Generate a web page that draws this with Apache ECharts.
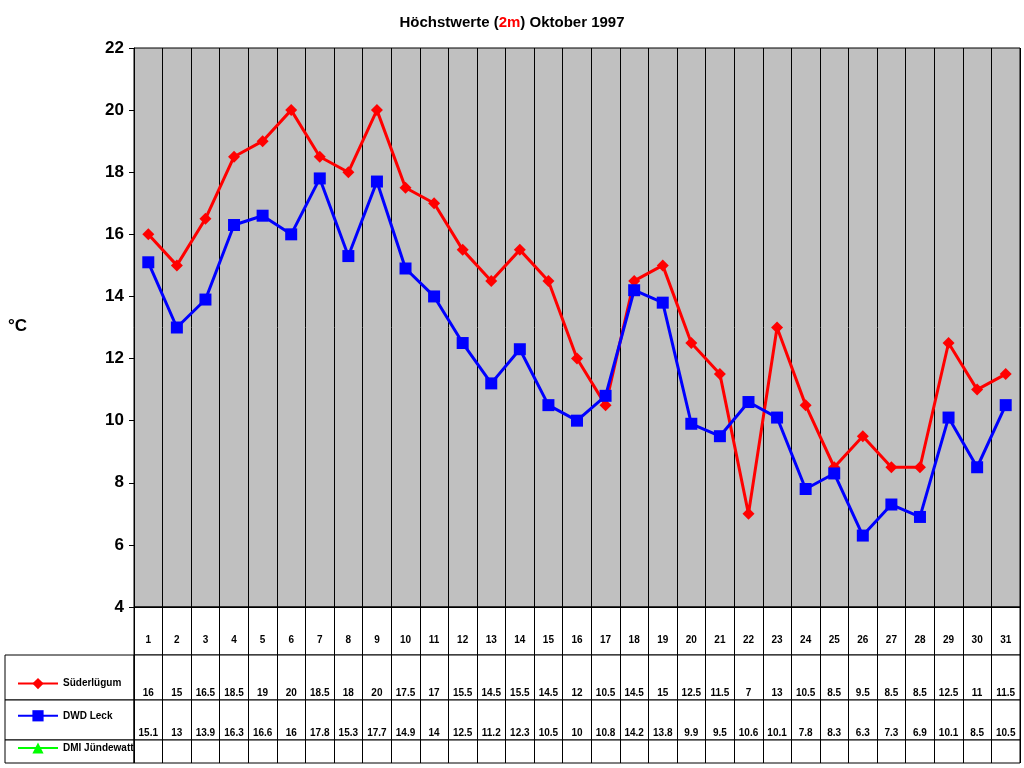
<!DOCTYPE html>
<html><head><meta charset="utf-8">
<script src="https://cdn.jsdelivr.net/npm/echarts@6/dist/echarts.min.js"></script>
<style>html,body{margin:0;background:#fff}#c{width:1024px;height:768px}</style>
</head><body><div id="c"></div>
<script>
// Daily maxima, October 1997
const days = Array.from({length: 31}, (_, i) => String(i + 1));
const suederluegum = [16,15,16.5,18.5,19,20,18.5,18,20,17.5,17,15.5,14.5,15.5,14.5,12,10.5,14.5,15,12.5,11.5,7,13,10.5,8.5,9.5,8.5,8.5,12.5,11,11.5];
const dwdLeck = [15.1,13,13.9,16.3,16.6,16,17.8,15.3,17.7,14.9,14,12.5,11.2,12.3,10.5,10,10.8,14.2,13.8,9.9,9.5,10.6,10.1,7.8,8.3,6.3,7.3,6.9,10.1,8.5,10.5];
const dmiJuendewatt = [];
const names = ['Süderlügum', 'DWD Leck', 'DMI Jündewatt'];
const colors = ['#ff0000', '#0000ff', '#00ff00'];

const font = 'Arial, "Liberation Sans", sans-serif';
const L = 134, R = 4;
// table rows: [top, height, label data, label margin]
const rows = [
  [607, 48, days, -20],
  [655, 45, suederluegum.map(String), -12],
  [700, 40, dwdLeck.map(String), -12],
  [740, 23, days.map(() => ''), -10]
];

const grids = [{left: L, right: R, top: 48, bottom: 768 - 607, show: true, backgroundColor: '#c0c0c0', borderColor: '#000', borderWidth: 1}];
const xAxes = [{type: 'category', data: days, gridIndex: 0, boundaryGap: true,
  axisLine: {lineStyle: {color: '#000'}}, axisTick: {show: false}, axisLabel: {show: false},
  splitLine: {show: true, lineStyle: {color: '#000', width: 1}}}];
const yAxes = [{type: 'value', gridIndex: 0, min: 4, max: 22, interval: 2,
  axisLine: {show: true, lineStyle: {color: '#000'}}, axisTick: {show: true, length: 5},
  axisLabel: {color: '#000', fontWeight: 'bold', fontSize: 17, fontFamily: font, margin: 10},
  splitLine: {show: false}}];
rows.forEach((r, i) => {
  grids.push({left: L, right: R, top: r[0], height: r[1], show: true, backgroundColor: '#fff', borderColor: '#000', borderWidth: 1});
  xAxes.push({type: 'category', data: r[2], gridIndex: i + 1, boundaryGap: true,
    axisLine: {show: false}, axisTick: {show: false},
    axisLabel: {color: '#000', fontSize: 10, fontWeight: 'bold', fontFamily: font, margin: r[3], interval: 0},
    splitLine: {show: true, lineStyle: {color: '#000', width: 1}}});
  yAxes.push({type: 'value', gridIndex: i + 1, show: false});
});

const legendRects = rows.slice(1).map(r => ({type: 'rect', shape: {x: 5, y: r[0], width: L - 5, height: r[1]},
  style: {fill: '#fff', stroke: '#000', lineWidth: 1}, z: -1}));

const option = {
  animation: false,
  title: {text: '{a|Höchstwerte (}{b|2m}{a|) Oktober 1997}', left: 'center', top: 10,
    textStyle: {rich: {a: {fontSize: 15, fontWeight: 'bold', color: '#000', fontFamily: font},
      b: {fontSize: 15, fontWeight: 'bold', color: '#ff0000', fontFamily: font}}}},
  grid: grids, xAxis: xAxes, yAxis: yAxes,
  legend: {orient: 'vertical', left: 12, top: 673, itemGap: 21, itemWidth: 40, itemHeight: 14,
    textStyle: {fontSize: 10, fontWeight: 'bold', color: '#000', fontFamily: font, verticalAlign: 'bottom', padding: [12, 0, 0, 0]}},
  graphic: [...legendRects,
    {type: 'text', left: 8, top: 318, style: {text: '°C', fontSize: 17, fontWeight: 'bold', fill: '#000', fontFamily: font}}],
  series: [
    {name: names[0], type: 'line', data: suederluegum, color: colors[0], symbol: 'diamond', symbolSize: 12, lineStyle: {width: 3}},
    {name: names[1], type: 'line', data: dwdLeck, color: colors[1], symbol: 'rect', symbolSize: 12, lineStyle: {width: 3}},
    {name: names[2], type: 'line', data: dmiJuendewatt, color: colors[2], symbol: 'triangle', symbolSize: 12, lineStyle: {width: 3}}
  ]
};
echarts.init(document.getElementById('c')).setOption(option);
</script></body></html>
